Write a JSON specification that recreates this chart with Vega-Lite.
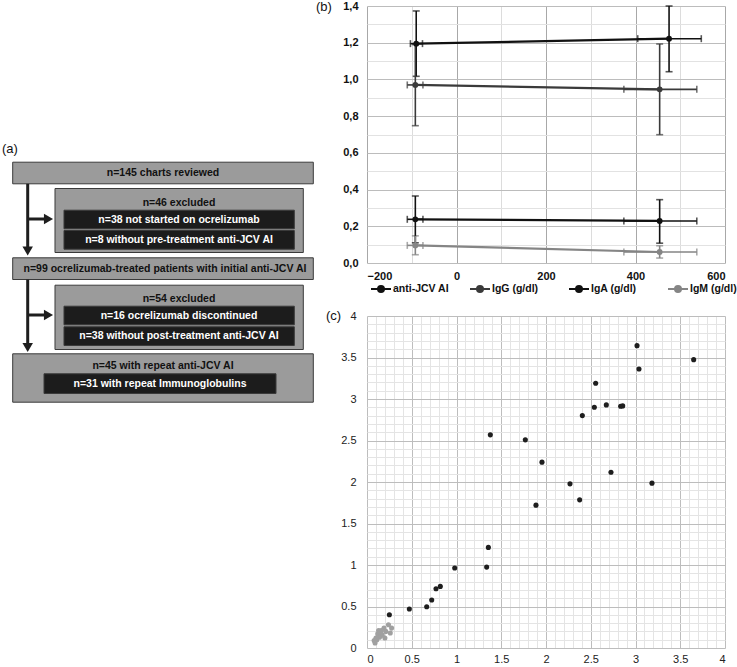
{
  "$schema": "https://vega.github.io/schema/vega-lite/v6.json",
  "padding": 0,
  "bounds": "flush",
  "spacing": 0,
  "config": {"view": {"stroke": null}, "font": "Liberation Sans"},
  "resolve": {"scale": {"color": "independent", "fill": "independent", "shape": "independent"}, "legend": {"color": "independent"}},
  "hconcat": [
    {
      "width": 367,
      "height": 660,
      "layer": [
        {
          "data": {"values": [
            {"x1": 12.7, "x2": 313.3, "y1": 162.7, "y2": 184.3, "k": "g"},
            {"x1": 55, "x2": 303.3, "y1": 189, "y2": 253, "k": "g"},
            {"x1": 64, "x2": 294.3, "y1": 210.7, "y2": 229.3, "k": "b"},
            {"x1": 64, "x2": 294.3, "y1": 231, "y2": 249.7, "k": "b"},
            {"x1": 12.7, "x2": 313.3, "y1": 258.3, "y2": 280, "k": "g"},
            {"x1": 55, "x2": 303.3, "y1": 285.7, "y2": 350, "k": "g"},
            {"x1": 64, "x2": 294.3, "y1": 306.7, "y2": 325.3, "k": "b"},
            {"x1": 64, "x2": 294.3, "y1": 327.3, "y2": 346, "k": "b"},
            {"x1": 12.7, "x2": 313.3, "y1": 354.3, "y2": 402.7, "k": "g"},
            {"x1": 44, "x2": 276, "y1": 374.3, "y2": 394, "k": "b"}
          ]},
          "mark": {"type": "rect", "stroke": "#3a3a3a", "strokeWidth": 1},
          "encoding": {
            "x": {"field": "x1", "type": "quantitative", "scale": {"domain": [0, 367], "nice": false, "zero": false}, "axis": null},
            "x2": {"field": "x2"},
            "y": {"field": "y1", "type": "quantitative", "scale": {"domain": [6.5, 666.5], "nice": false, "zero": false, "reverse": true}, "axis": null},
            "y2": {"field": "y2"},
            "fill": {"field": "k", "type": "nominal", "scale": {"domain": ["g", "b"], "range": ["#9b9b9b", "#1c1c1c"]}, "legend": null}
          }
        },
        {
          "data": {"values": [
            {"x1": 27.7, "y1": 184.3, "x2": 27.7, "y2": 252},
            {"x1": 27.7, "y1": 219.5, "x2": 49, "y2": 219.5},
            {"x1": 27.7, "y1": 280, "x2": 27.7, "y2": 348},
            {"x1": 27.7, "y1": 315.5, "x2": 49, "y2": 315.5}
          ]},
          "mark": {"type": "rule", "color": "#1e1e1e", "strokeWidth": 3},
          "encoding": {
            "x": {"field": "x1", "type": "quantitative", "scale": {"domain": [0, 367], "nice": false, "zero": false}, "axis": null},
            "x2": {"field": "x2"},
            "y": {"field": "y1", "type": "quantitative", "scale": {"domain": [6.5, 666.5], "nice": false, "zero": false, "reverse": true}, "axis": null},
            "y2": {"field": "y2"}
          }
        },
        {
          "data": {"values": [
            {"x": 27.7, "y": 251.5, "s": "triangle-down"},
            {"x": 48.5, "y": 219.5, "s": "triangle-right"},
            {"x": 27.7, "y": 348, "s": "triangle-down"},
            {"x": 48.5, "y": 315.5, "s": "triangle-right"}
          ]},
          "mark": {"type": "point", "filled": true, "color": "#1e1e1e", "opacity": 1, "size": 110},
          "encoding": {
            "x": {"field": "x", "type": "quantitative", "scale": {"domain": [0, 367], "nice": false, "zero": false}, "axis": null},
            "y": {"field": "y", "type": "quantitative", "scale": {"domain": [6.5, 666.5], "nice": false, "zero": false, "reverse": true}, "axis": null},
            "shape": {"field": "s", "type": "nominal", "scale": {"domain": ["triangle-down", "triangle-right"], "range": ["triangle-down", "triangle-right"]}, "legend": null}
          }
        },
        {
          "data": {"values": [
            {"x": 163, "y": 173.5, "t": "n=145 charts reviewed", "k": "g"},
            {"x": 179, "y": 203, "t": "n=46 excluded", "k": "g"},
            {"x": 179, "y": 220, "t": "n=38 not started on ocrelizumab", "k": "b"},
            {"x": 179, "y": 240.5, "t": "n=8 without pre-treatment anti-JCV AI", "k": "b"},
            {"x": 165, "y": 269, "t": "n=99 ocrelizumab-treated patients with initial anti-JCV AI", "k": "g"},
            {"x": 179, "y": 299, "t": "n=54 excluded", "k": "g"},
            {"x": 179, "y": 316, "t": "n=16 ocrelizumab discontinued", "k": "b"},
            {"x": 179, "y": 336.7, "t": "n=38 without post-treatment anti-JCV AI", "k": "b"},
            {"x": 163, "y": 366.7, "t": "n=45 with repeat anti-JCV AI", "k": "g"},
            {"x": 160, "y": 384, "t": "n=31 with repeat Immunoglobulins", "k": "b"}
          ]},
          "mark": {"type": "text", "font": "Liberation Sans", "fontWeight": "bold", "fontSize": 10.5, "align": "center", "baseline": "middle"},
          "encoding": {
            "x": {"field": "x", "type": "quantitative", "scale": {"domain": [0, 367], "nice": false, "zero": false}, "axis": null},
            "y": {"field": "y", "type": "quantitative", "scale": {"domain": [6.5, 666.5], "nice": false, "zero": false, "reverse": true}, "axis": null},
            "text": {"field": "t"},
            "color": {"field": "k", "type": "nominal", "scale": {"domain": ["g", "b"], "range": ["#111111", "#ffffff"]}, "legend": null}
          }
        },
        {
          "data": {"values": [
            {"x": 2, "y": 149, "t": "(a)"},
            {"x": 316, "y": 7.5, "t": "(b)"},
            {"x": 326, "y": 316, "t": "(c)"}
          ]},
          "mark": {"type": "text", "font": "Liberation Sans", "fontSize": 13, "align": "left", "baseline": "middle", "color": "#111111"},
          "encoding": {
            "x": {"field": "x", "type": "quantitative", "scale": {"domain": [0, 367], "nice": false, "zero": false}, "axis": null},
            "y": {"field": "y", "type": "quantitative", "scale": {"domain": [6.5, 666.5], "nice": false, "zero": false, "reverse": true}, "axis": null},
            "text": {"field": "t"}
          }
        }
      ]
    },
    {
      "bounds": "flush",
      "spacing": 53,
      "resolve": {"scale": {"color": "independent"}, "legend": {"color": "independent"}},
      "vconcat": [
        {
          "width": 358,
          "height": 257,
          "data": {"values": [
            {"series": "anti-JCV AI", "t": -90, "y": 1.195, "xlo": -103, "xhi": -76, "ylo": 1.017, "yhi": 1.373},
            {"series": "anti-JCV AI", "t": 475, "y": 1.222, "xlo": 405, "xhi": 547, "ylo": 1.042, "yhi": 1.4},
            {"series": "IgG (g/dl)", "t": -92, "y": 0.97, "xlo": -110, "xhi": -75, "ylo": 0.748, "yhi": 1.19},
            {"series": "IgG (g/dl)", "t": 454, "y": 0.946, "xlo": 374, "xhi": 537, "ylo": 0.699, "yhi": 1.193},
            {"series": "IgA (g/dl)", "t": -92, "y": 0.238, "xlo": -110, "xhi": -75, "ylo": 0.11, "yhi": 0.365},
            {"series": "IgA (g/dl)", "t": 454, "y": 0.229, "xlo": 374, "xhi": 537, "ylo": 0.108, "yhi": 0.345},
            {"series": "IgM (g/dl)", "t": -92, "y": 0.096, "xlo": -110, "xhi": -75, "ylo": 0.045, "yhi": 0.148},
            {"series": "IgM (g/dl)", "t": 454, "y": 0.06, "xlo": 374, "xhi": 537, "ylo": 0.027, "yhi": 0.094}
          ]},
          "layer": [
            {
              "mark": {"type": "point", "opacity": 0},
              "encoding": {
                "x": {"field": "t", "type": "quantitative", "scale": {"domain": [-200, 600], "nice": false, "zero": false},
                  "axis": {"orient": "top", "values": [-100, 100, 300, 500], "grid": true, "gridColor": "#dcdcdc", "gridWidth": 1, "labels": false, "ticks": false, "domain": false, "title": null}},
                "y": {"field": "y", "type": "quantitative", "scale": {"domain": [0, 1.4], "nice": false, "zero": false},
                  "axis": {"orient": "right", "values": [0.1, 0.3, 0.5, 0.7, 0.9, 1.1, 1.3], "grid": true, "gridColor": "#e2e2e2", "gridWidth": 1, "labels": false, "ticks": false, "domain": false, "title": null}}
              }
            },
            {
              "mark": {"type": "line", "strokeWidth": 2.2},
              "encoding": {
                "x": {"field": "t", "type": "quantitative", "scale": {"domain": [-200, 600], "nice": false, "zero": false},
                  "axis": {"orient": "bottom", "values": [-200, 0, 200, 400, 600], "grid": true, "gridColor": "#a8a8a8", "labels": true, "labelFont": "Liberation Sans", "labelFontWeight": "bold", "labelFontSize": 11, "labelColor": "#111111", "labelPadding": 7, "ticks": false, "domain": false, "title": null}},
                "y": {"field": "y", "type": "quantitative", "scale": {"domain": [0, 1.4], "nice": false, "zero": false},
                  "axis": {"orient": "left", "values": [0, 0.2, 0.4, 0.6, 0.8, 1, 1.2, 1.4], "labelExpr": "replace(format(datum.value, '.1f'), '.', ',')", "grid": true, "gridColor": "#bcbcbc", "labelFont": "Liberation Sans", "labelFontWeight": "bold", "labelFontSize": 11, "labelColor": "#111111", "labelPadding": 9, "ticks": false, "domain": false, "title": null}},
                "color": {"field": "series", "type": "nominal",
                  "scale": {"domain": ["anti-JCV AI", "IgG (g/dl)", "IgA (g/dl)", "IgM (g/dl)"], "range": ["#111111", "#3a3a3a", "#111111", "#858585"]},
                  "legend": {"orient": "none", "legendX": 3, "legendY": 272, "direction": "horizontal", "columns": 4, "gridAlign": "all", "columnPadding": 16, "title": null,
                    "symbolType": "M-1,0H1M-0.3,0A0.3,0.3 0 1,0 0.3,0A0.3,0.3 0 1,0 -0.3,0Z", "symbolSize": 400, "symbolStrokeWidth": 2,
                    "labelFont": "Liberation Sans", "labelFontWeight": "bold", "labelFontSize": 10.5, "labelLimit": 200, "labelColor": "#111111", "labelOffset": 1,
                    "encode": {"symbols": {"update": {"fill": {"scale": "color", "field": "value"}, "stroke": {"scale": "color", "field": "value"}, "opacity": {"value": 1}}}}}}
              }
            },
            {
              "mark": {"type": "errorbar", "ticks": {"size": 7}, "rule": {"strokeWidth": 1.6}, "thickness": 1.6},
              "encoding": {
                "x": {"field": "t", "type": "quantitative", "scale": {"domain": [-200, 600], "nice": false, "zero": false}, "axis": null},
                "y": {"field": "ylo", "type": "quantitative", "scale": {"domain": [0, 1.4], "nice": false, "zero": false}, "axis": null},
                "y2": {"field": "yhi"},
                "color": {"field": "series", "type": "nominal", "legend": null}
              }
            },
            {
              "mark": {"type": "errorbar", "ticks": {"size": 7}, "rule": {"strokeWidth": 1.6}, "thickness": 1.6},
              "encoding": {
                "x": {"field": "xlo", "type": "quantitative", "scale": {"domain": [-200, 600], "nice": false, "zero": false}, "axis": null},
                "x2": {"field": "xhi"},
                "y": {"field": "y", "type": "quantitative", "scale": {"domain": [0, 1.4], "nice": false, "zero": false}, "axis": null},
                "color": {"field": "series", "type": "nominal", "legend": null}
              }
            },
            {
              "mark": {"type": "point", "filled": true, "opacity": 1, "size": 34, "shape": "circle"},
              "encoding": {
                "x": {"field": "t", "type": "quantitative", "scale": {"domain": [-200, 600], "nice": false, "zero": false}, "axis": null},
                "y": {"field": "y", "type": "quantitative", "scale": {"domain": [0, 1.4], "nice": false, "zero": false}, "axis": null},
                "color": {"field": "series", "type": "nominal", "legend": null}
              }
            }
          ]
        },
        {
          "width": 358,
          "height": 332,
          "data": {"values": [
            {"g": "d", "x": 0.25, "y": 0.40},
            {"g": "d", "x": 0.473, "y": 0.469},
            {"g": "d", "x": 0.667, "y": 0.497},
            {"g": "d", "x": 0.723, "y": 0.578},
            {"g": "d", "x": 0.771, "y": 0.714},
            {"g": "d", "x": 0.819, "y": 0.742},
            {"g": "d", "x": 0.98, "y": 0.963},
            {"g": "d", "x": 1.337, "y": 0.975},
            {"g": "d", "x": 1.356, "y": 1.212},
            {"g": "d", "x": 1.378, "y": 2.568},
            {"g": "d", "x": 1.769, "y": 2.508},
            {"g": "d", "x": 1.955, "y": 2.239},
            {"g": "d", "x": 1.888, "y": 1.721},
            {"g": "d", "x": 2.268, "y": 1.978},
            {"g": "d", "x": 2.376, "y": 1.785},
            {"g": "d", "x": 2.406, "y": 2.8},
            {"g": "d", "x": 2.54, "y": 2.901},
            {"g": "d", "x": 2.555, "y": 3.19},
            {"g": "d", "x": 2.674, "y": 2.929},
            {"g": "d", "x": 2.726, "y": 2.118},
            {"g": "d", "x": 2.834, "y": 2.913},
            {"g": "d", "x": 2.857, "y": 2.917},
            {"g": "d", "x": 3.017, "y": 3.643},
            {"g": "d", "x": 3.039, "y": 3.362},
            {"g": "d", "x": 3.184, "y": 1.986},
            {"g": "d", "x": 3.65, "y": 3.474},
            {"g": "m", "x": 0.24, "y": 0.28},
            {"g": "m", "x": 0.275, "y": 0.24},
            {"g": "m", "x": 0.19, "y": 0.24},
            {"g": "m", "x": 0.16, "y": 0.21},
            {"g": "m", "x": 0.13, "y": 0.21},
            {"g": "m", "x": 0.21, "y": 0.2},
            {"g": "m", "x": 0.26, "y": 0.18},
            {"g": "m", "x": 0.12, "y": 0.17},
            {"g": "m", "x": 0.17, "y": 0.155},
            {"g": "m", "x": 0.15, "y": 0.17},
            {"g": "m", "x": 0.14, "y": 0.13},
            {"g": "m", "x": 0.1, "y": 0.12},
            {"g": "m", "x": 0.2, "y": 0.12},
            {"g": "m", "x": 0.11, "y": 0.1},
            {"g": "m", "x": 0.08, "y": 0.09},
            {"g": "m", "x": 0.09, "y": 0.06}
          ]},
          "layer": [
            {
              "mark": {"type": "point", "opacity": 0},
              "encoding": {
                "x": {"field": "x", "type": "quantitative", "scale": {"domain": [0, 4], "nice": false, "zero": false},
                  "axis": {"orient": "top", "values": [0.1, 0.2, 0.3, 0.4, 0.6, 0.7, 0.8, 0.9, 1.1, 1.2, 1.3, 1.4, 1.6, 1.7, 1.8, 1.9, 2.1, 2.2, 2.3, 2.4, 2.6, 2.7, 2.8, 2.9, 3.1, 3.2, 3.3, 3.4, 3.6, 3.7, 3.8, 3.9], "grid": true, "gridColor": "#e4e4e4", "labels": false, "ticks": false, "domain": false, "title": null}},
                "y": {"field": "y", "type": "quantitative", "scale": {"domain": [0, 4], "nice": false, "zero": false},
                  "axis": {"orient": "right", "values": [0.1, 0.2, 0.3, 0.4, 0.6, 0.7, 0.8, 0.9, 1.1, 1.2, 1.3, 1.4, 1.6, 1.7, 1.8, 1.9, 2.1, 2.2, 2.3, 2.4, 2.6, 2.7, 2.8, 2.9, 3.1, 3.2, 3.3, 3.4, 3.6, 3.7, 3.8, 3.9], "grid": true, "gridColor": "#e4e4e4", "labels": false, "ticks": false, "domain": false, "title": null}}
              }
            },
            {
              "mark": {"type": "circle", "opacity": 1, "size": 26},
              "encoding": {
                "x": {"field": "x", "type": "quantitative", "scale": {"domain": [0, 4], "nice": false, "zero": false},
                  "axis": {"orient": "bottom", "values": [0, 0.5, 1, 1.5, 2, 2.5, 3, 3.5, 4], "format": "~g", "grid": true, "gridColor": "#bdbdbd", "labelFont": "Liberation Sans", "labelFontSize": 11, "labelColor": "#222222", "labelPadding": 5, "ticks": false, "domain": false, "title": null}},
                "y": {"field": "y", "type": "quantitative", "scale": {"domain": [0, 4], "nice": false, "zero": false},
                  "axis": {"orient": "left", "values": [0, 0.5, 1, 1.5, 2, 2.5, 3, 3.5, 4], "format": "~g", "grid": true, "gridColor": "#bdbdbd", "labelFont": "Liberation Sans", "labelFontSize": 11, "labelColor": "#222222", "labelPadding": 11, "ticks": false, "domain": false, "title": null}},
                "color": {"field": "g", "type": "nominal", "scale": {"domain": ["d", "m"], "range": ["#1e1e1e", "#a0a0a0"]}, "legend": null}
              }
            }
          ]
        }
      ]
    }
  ]
}
